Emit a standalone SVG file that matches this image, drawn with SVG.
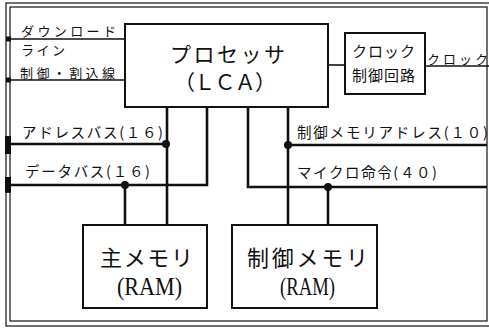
<svg xmlns="http://www.w3.org/2000/svg" width="489" height="328" viewBox="0 0 489 328">
<style>
.frame{fill:none;stroke:#111;stroke-width:1.2}
.box{fill:#fff;stroke:#111;stroke-width:2}
.bus{fill:none;stroke:#111;stroke-width:2.6}
.thin{fill:none;stroke:#111;stroke-width:1.6}
.dot{fill:#111}
.lbl{font-family:"Noto Sans CJK JP","Noto Sans",sans-serif;font-size:14.5px;fill:#111}
.sm{font-family:"Noto Sans CJK JP","Noto Sans",sans-serif;font-size:13px;fill:#111}
.big{font-family:"Noto Sans CJK JP","Noto Sans",sans-serif;font-size:21px;fill:#111}
.ram{font-family:"Liberation Serif","Noto Sans CJK JP",serif;font-size:25px;fill:#111}
</style>
<rect class="frame" x="6" y="3" width="490" height="323"/>
<rect class="frame" x="10" y="7" width="477" height="314"/>

<g id="connectors">
  <line class="thin" x1="8" y1="39" x2="125" y2="39"/>
  <line class="thin" x1="8" y1="80" x2="125" y2="80"/>
  <rect class="dot" x="6" y="36.5" width="5" height="5"/>
  <rect class="dot" x="6" y="77.5" width="5" height="5"/>
  <line class="thin" x1="328" y1="65" x2="345" y2="65"/>
  <line class="thin" x1="425" y1="66" x2="489" y2="66"/>
  <polyline class="bus" points="8,144 167,144"/>
  <polyline class="bus" points="167,107 167,225"/>
  <polyline class="bus" points="8,185 207,185 207,107"/>
  <polyline class="bus" points="125,185 125,225"/>
  <polyline class="bus" points="248,107 248,187 487,187"/>
  <polyline class="bus" points="288,107 288,225"/>
  <polyline class="bus" points="288,145 487,145"/>
  <polyline class="bus" points="328,187 328,225"/>
  <rect class="dot" x="5" y="136" width="6" height="18"/>
  <rect class="dot" x="5" y="177" width="6" height="16"/>
  <circle class="dot" cx="166" cy="144" r="4"/>
  <circle class="dot" cx="125" cy="185" r="4"/>
  <circle class="dot" cx="288" cy="145" r="4"/>
  <circle class="dot" cx="328" cy="187" r="4"/>
</g>

<g id="labels">
  <text class="sm" x="21" y="36" textLength="95" lengthAdjust="spacing">ダウンロード</text>
  <text class="sm" x="21" y="55" textLength="44" lengthAdjust="spacing">ライン</text>
  <text class="sm" x="20" y="78" textLength="95" lengthAdjust="spacing">制御・割込線</text>
  <text class="sm" x="427" y="64" textLength="61" lengthAdjust="spacing">クロック</text>
  <text class="lbl" x="22" y="137.5" textLength="141" lengthAdjust="spacing">アドレスバス(１６)</text>
  <text class="lbl" x="25" y="176.5" textLength="125" lengthAdjust="spacing">データバス(１６)</text>
  <text class="lbl" x="297" y="137.5" textLength="191" lengthAdjust="spacing">制御メモリアドレス(１０)</text>
  <text class="lbl" x="297" y="177.5" textLength="140" lengthAdjust="spacing">マイクロ命令(４０)</text>
</g>

<g id="processor">
  <rect class="box" x="125" y="24" width="203" height="83"/>
  <text class="big" x="170" y="62" textLength="115" lengthAdjust="spacing">プロセッサ</text>
  <text class="big" x="174" y="90" textLength="102" lengthAdjust="spacing">（ＬＣＡ）</text>
</g>

<g id="clock-control">
  <rect class="box" x="345" y="33" width="80" height="61"/>
  <text class="lbl" x="352" y="57" textLength="63" lengthAdjust="spacing" style="font-size:15px">クロック</text>
  <text class="lbl" x="352" y="81" textLength="63" lengthAdjust="spacing" style="font-size:15px">制御回路</text>
</g>

<g id="main-memory">
  <rect class="box" x="83" y="225" width="124" height="83"/>
  <text class="big" x="100" y="266" textLength="93" lengthAdjust="spacing" style="font-size:22px">主メモリ</text>
  <text class="ram" x="117" y="295" textLength="65" lengthAdjust="spacingAndGlyphs">(RAM)</text>
</g>

<g id="control-memory">
  <rect class="box" x="232" y="225" width="145" height="83"/>
  <text class="big" x="247" y="266" textLength="121" lengthAdjust="spacing" style="font-size:22px">制御メモリ</text>
  <text class="ram" x="280" y="295" textLength="55" lengthAdjust="spacingAndGlyphs">(RAM)</text>
</g>
</svg>
